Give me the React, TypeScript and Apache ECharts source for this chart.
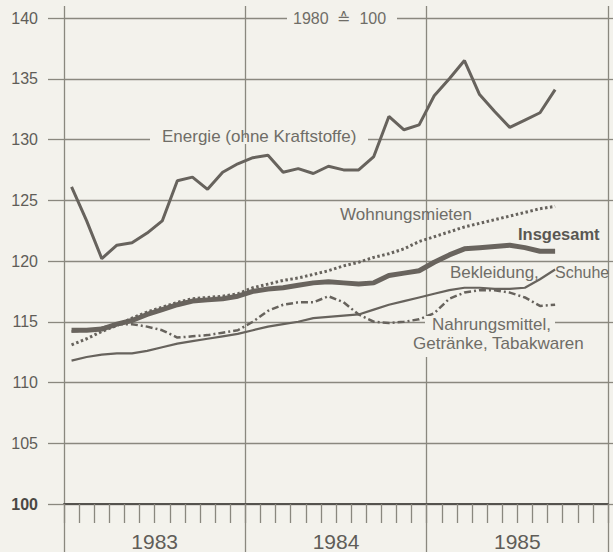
import React, { useEffect, useRef } from "react";
import * as echarts from "echarts";

const years = ["1983", "1984", "1985"];
const monthCats = years.flatMap((y) => Array.from({ length: 12 }, (_, m) => `${y}-${m + 1}`));
const yTicks = { min: 100, max: 140, step: 5 };

const energie = [126.1, 123.3, 120.2, 121.3, 121.5, 122.3, 123.3, 126.6, 126.9, 125.9, 127.3, 128.0, 128.5, 128.7, 127.3, 127.6, 127.2, 127.8, 127.5, 127.5, 128.6, 131.9, 130.8, 131.2, 133.6, 135.0, 136.5, 133.7, 132.3, 131.0, 131.6, 132.2, 134.1];
const wohnungsmieten = [113.1, 113.6, 114.2, 114.7, 115.3, 115.8, 116.2, 116.6, 116.9, 117.0, 117.1, 117.3, 117.8, 118.1, 118.4, 118.6, 118.9, 119.2, 119.6, 119.9, 120.3, 120.6, 121.0, 121.6, 122.0, 122.4, 122.8, 123.1, 123.4, 123.7, 124.0, 124.3, 124.5];
const insgesamt = [114.3, 114.3, 114.4, 114.8, 115.1, 115.6, 116.0, 116.4, 116.7, 116.8, 116.9, 117.1, 117.5, 117.7, 117.8, 118.0, 118.2, 118.3, 118.2, 118.1, 118.2, 118.8, 119.0, 119.2, 119.9, 120.5, 121.0, 121.1, 121.2, 121.3, 121.1, 120.8, 120.8];
const bekleidung = [111.8, 112.1, 112.3, 112.4, 112.4, 112.6, 112.9, 113.2, 113.4, 113.6, 113.8, 114.0, 114.3, 114.6, 114.8, 115.0, 115.3, 115.4, 115.5, 115.6, 116.0, 116.4, 116.7, 117.0, 117.3, 117.6, 117.8, 117.8, 117.7, 117.7, 117.8, 118.5, 119.3];
const nahrungsmittel = [114.2, 114.3, 114.5, 114.8, 114.8, 114.6, 114.3, 113.7, 113.8, 113.9, 114.1, 114.3, 115.0, 115.9, 116.4, 116.6, 116.6, 117.1, 116.6, 115.6, 115.0, 114.9, 115.0, 115.2, 115.7, 116.9, 117.4, 117.6, 117.6, 117.4, 117.0, 116.3, 116.4];

const BG = "#f3f2ec";
const GRID = "#8a887f";
const LINE = "#67635d";
const TEXT = "#6f6d67";
const FONT = "'Liberation Sans', Arial, Helvetica, sans-serif";

export default function App() {
  const ref = useRef<HTMLDivElement>(null);
  useEffect(() => {
    if (!ref.current) return;
    const chart = echarts.init(ref.current, null, { renderer: "svg" });
    const label = (text: string, x: number, y: number, extra: any = {}) => ({
      type: "text",
      left: x,
      top: y,
      z: 10,
      style: { text, fill: TEXT, font: `17px ${FONT}`, ...extra },
    });
    const bgRect = (x: number, y: number, w: number, h: number) => ({
      type: "rect",
      shape: { x, y, width: w, height: h },
      style: { fill: BG },
      z: 5,
      silent: true,
    });
    const yAxisBase = {
      type: "value",
      min: yTicks.min,
      max: yTicks.max,
      interval: yTicks.step,
      axisLine: { show: false },
    };
    chart.setOption({
      animation: false,
      backgroundColor: BG,
      textStyle: { fontFamily: FONT },
      grid: { left: 64, right: 5, top: 18, bottom: 48 },
      xAxis: [
        {
          type: "category",
          data: monthCats,
          boundaryGap: true,
          axisLine: { show: true, lineStyle: { color: "#55534e", width: 2 } },
          axisTick: { show: true, interval: 0, length: 19, lineStyle: { color: GRID, width: 1.3 } },
          axisLabel: { show: false },
          splitLine: { show: false },
        },
        {
          type: "category",
          data: years,
          position: "bottom",
          boundaryGap: true,
          axisLine: { show: false },
          axisTick: { show: true, interval: 0, length: 48, lineStyle: { color: GRID, width: 1.3 } },
          axisLabel: { show: true, margin: 27, fontSize: 21, color: "#5f5d58", fontFamily: FONT },
          splitLine: { show: true, interval: 0, lineStyle: { color: GRID, width: 1.3 } },
        },
        {
          type: "category",
          data: years,
          position: "top",
          boundaryGap: true,
          axisLine: { show: false },
          axisTick: { show: true, interval: 0, length: 12, lineStyle: { color: GRID, width: 1.3 } },
          axisLabel: { show: false },
          splitLine: { show: false },
        },
      ],
      yAxis: [
        {
          ...yAxisBase,
          position: "left",
          axisTick: { show: true, length: 16, lineStyle: { color: GRID, width: 1.3 } },
          axisLabel: {
            margin: 26,
            fontSize: 16,
            color: "#5f5d58",
            fontFamily: FONT,
            formatter: (v: number) => (v === 100 ? `{b|${v}}` : `${v}`),
            rich: { b: { fontWeight: "bold", fontSize: 16, color: "#4a4844", fontFamily: FONT } },
          },
          splitLine: { show: true, lineStyle: { color: GRID, width: 1.3 } },
        },
        {
          ...yAxisBase,
          position: "right",
          axisTick: { show: true, length: 5, lineStyle: { color: GRID, width: 1.3 } },
          axisLabel: { show: false },
          splitLine: { show: false },
        },
      ],
      series: [
        { name: "Bekleidung, Schuhe", type: "line", data: bekleidung, symbol: "none", lineStyle: { color: LINE, width: 2.2 }, z: 2 },
        { name: "Nahrungsmittel", type: "line", data: nahrungsmittel, symbol: "none", lineStyle: { color: LINE, width: 2.5, type: [7, 3, 2, 3] }, z: 3 },
        { name: "Insgesamt", type: "line", data: insgesamt, symbol: "none", lineStyle: { color: "#69645e", width: 5 }, z: 4 },
        { name: "Wohnungsmieten", type: "line", data: wohnungsmieten, symbol: "none", lineStyle: { color: LINE, width: 3, type: [2.5, 2.5] }, z: 5 },
        { name: "Energie", type: "line", data: energie, symbol: "none", lineStyle: { color: LINE, width: 3 }, z: 6 },
      ],
      graphic: [
        bgRect(287, 11, 110, 14),
        label("1980  ≙  100", 293, 10, { font: `16px ${FONT}` }),
        bgRect(150, 138, 218, 6),
        label("Energie (ohne Kraftstoffe)", 162, 128),
        label("Wohnungsmieten", 340, 206),
        label("Insgesamt", 518, 225, { font: `bold 16.5px ${FONT}`, fill: "#5a5853" }),
        label("Bekleidung,", 450, 264),
        label("Schuhe", 555, 264, { font: `16px ${FONT}` }),
        bgRect(425, 316, 130, 41),
        label("Nahrungsmittel,", 432, 316),
        label("Getränke, Tabakwaren", 413, 335),
      ],
    });
    return () => chart.dispose();
  }, []);
  return (
    <div
      ref={ref}
      style={{ position: "fixed", left: 0, top: 0, width: 613, height: 552, background: BG }}
    />
  );
}
